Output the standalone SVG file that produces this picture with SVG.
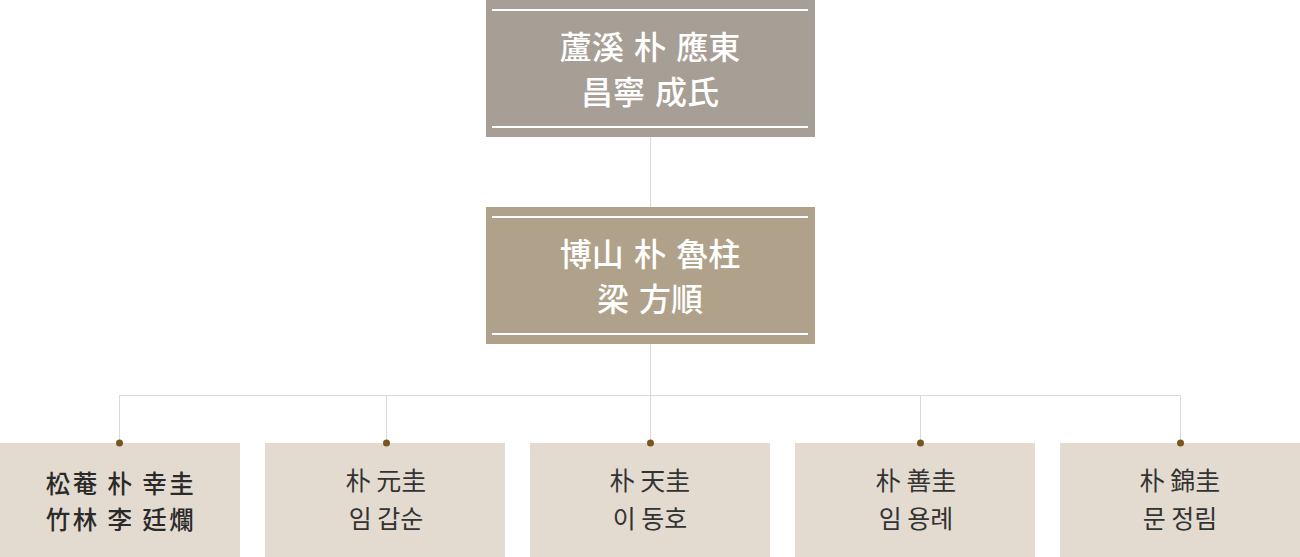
<svg xmlns="http://www.w3.org/2000/svg" width="1300" height="557" viewBox="0 0 1300 557">
<style>
.top{fill:#a79e95}
.mid{fill:#b0a28a}
.leaf{fill:#e4dbd0}
.rule{stroke:#ffffff;stroke-width:2}
.conn{stroke:#d9d9d9;stroke-width:1;fill:none}
.dot{fill:#7b5520}
.tw{font-family:"Noto Sans CJK KR","Noto Sans CJK SC",sans-serif;fill:#ffffff;font-size:32px;font-weight:500;text-anchor:middle;word-spacing:3px}
.tl{font-family:"Noto Sans CJK KR","Noto Sans CJK SC",sans-serif;fill:#333333;font-size:25px;text-anchor:middle}
.b{font-size:24.5px;font-weight:500;letter-spacing:2.4px;word-spacing:0px;fill:#2a2a2a}
</style>
<rect width="1300" height="557" fill="#ffffff"/>
<g id="connectors">
<path class="conn" d="M650.5 137V207M650.5 344V395.5M119.5 395.5H1180.5M119.5 395.5V443M386.5 395.5V443M650.5 395.5V443M920.5 395.5V443M1180.5 395.5V443"/>
</g>
<g id="node-top">
<rect class="top" x="486" y="0" width="329" height="137"/>
<line class="rule" x1="492" y1="10" x2="808" y2="10"/>
<line class="rule" x1="492" y1="127" x2="808" y2="127"/>
<text class="tw" x="650" y="59">蘆溪 朴 應東</text>
<text class="tw" x="650" y="104">昌寧 成氏</text>
</g>
<g id="node-mid">
<rect class="mid" x="486" y="207" width="329" height="137"/>
<line class="rule" x1="492" y1="217" x2="808" y2="217"/>
<line class="rule" x1="492" y1="334" x2="808" y2="334"/>
<text class="tw" x="650" y="266">博山 朴 魯柱</text>
<text class="tw" x="650" y="311">梁 方順</text>
</g>
<g id="node-1">
<rect class="leaf" x="0" y="443" width="240" height="114"/>
<circle class="dot" cx="119.5" cy="443" r="3.5"/>
<text class="tl b" x="121" y="493">松菴 朴 幸圭</text>
<text class="tl b" x="121" y="529">竹林 李 廷爛</text>
</g>
<g id="node-2">
<rect class="leaf" x="265" y="443" width="240" height="114"/>
<circle class="dot" cx="386.5" cy="443" r="3.5"/>
<text class="tl" x="386" y="490">朴 元圭</text>
<text class="tl" x="386" y="528">임 갑순</text>
</g>
<g id="node-3">
<rect class="leaf" x="530" y="443" width="240" height="114"/>
<circle class="dot" cx="650.5" cy="443" r="3.5"/>
<text class="tl" x="650" y="490">朴 天圭</text>
<text class="tl" x="650" y="528">이 동호</text>
</g>
<g id="node-4">
<rect class="leaf" x="795" y="443" width="240" height="114"/>
<circle class="dot" cx="920.5" cy="443" r="3.5"/>
<text class="tl" x="916" y="490">朴 善圭</text>
<text class="tl" x="916" y="528">임 용례</text>
</g>
<g id="node-5">
<rect class="leaf" x="1060" y="443" width="240" height="114"/>
<circle class="dot" cx="1180.5" cy="443" r="3.5"/>
<text class="tl" x="1180" y="490">朴 錦圭</text>
<text class="tl" x="1180" y="528">문 정림</text>
</g>
</svg>
